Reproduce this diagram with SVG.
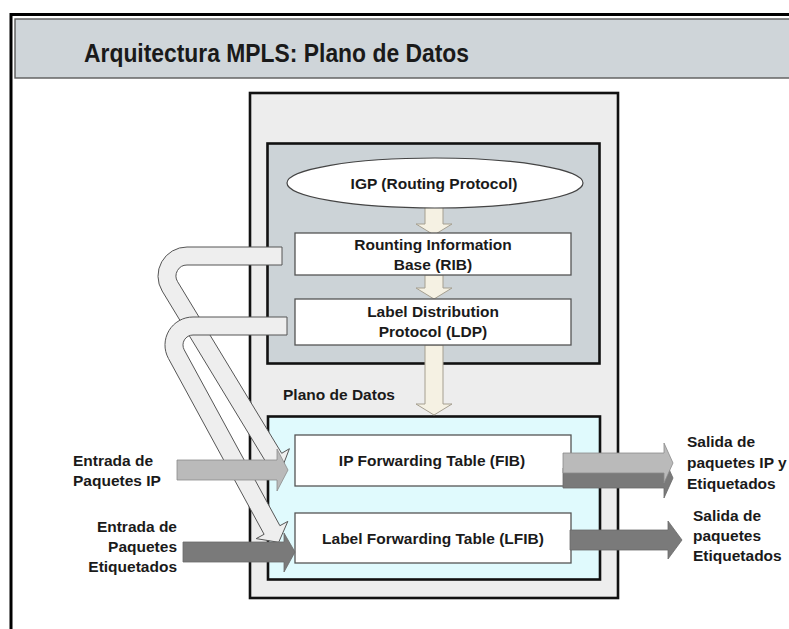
<svg xmlns="http://www.w3.org/2000/svg" width="789" height="629" viewBox="0 0 789 629">
<style>
text{font-family:"Liberation Sans",Arial,sans-serif;font-weight:bold;fill:#1a1a1a;font-size:15.5px}
.box{fill:#ffffff;stroke:#555;stroke-width:1.3}
.blk{stroke:#111;stroke-width:2.6}
.bent{fill:#eeeeee;stroke:#555;stroke-width:1}
.cream{fill:#f5f1e3;stroke:#a59f90;stroke-width:1}
.lg{fill:#bababa;stroke:#8c8c8c;stroke-width:0.8}
.dg{fill:#7a7a7a;stroke:#6a6a6a;stroke-width:0.8}
.c{text-anchor:middle}
</style>
<rect width="789" height="629" fill="#ffffff"/>
<g id="frame">
<path d="M11 629 V14.5 H789" fill="none" stroke="#000" stroke-width="3"/>
<rect x="15" y="19" width="780" height="59" fill="#cfd5d9" stroke="#5a5a5a" stroke-width="1.4"/>
<text x="84" y="62" style="font-size:26px" textLength="385" lengthAdjust="spacingAndGlyphs">Arquitectura MPLS: Plano de Datos</text>
</g>
<g id="router">
<rect x="250" y="93" width="368" height="505" fill="#ededed" class="blk"/>
</g>
<g id="control-plane">
<rect x="267.5" y="143.5" width="332" height="220" fill="#ccd3d7" class="blk"/>
</g>
<g id="data-plane">
<rect x="268" y="416.5" width="332" height="163" fill="#e0fafd" class="blk"/>
<text x="283" y="400">Plano de Datos</text>
</g>
<g id="connectors">
<path class="cream" d="M425 206 H443 V224 H452 L434 235 L416 224 H425 Z"/>
<path class="cream" d="M425 275 H443 V288 H452 L434 299 L416 288 H425 Z"/>
<path class="cream" d="M425 345 H443 V404 H452 L434 415 L416 404 H425 Z"/>
</g>
<g id="igp">
<ellipse cx="435" cy="183" rx="148" ry="25" fill="#fff" stroke="#444" stroke-width="1.2"/>
<text class="c" x="434" y="189" style="font-size:15.5px">IGP (Routing Protocol)</text>
</g>
<g id="rib">
<rect class="box" x="295" y="233" width="276" height="42"/>
<text class="c" x="433" y="250">Rounting Information</text>
<text class="c" x="433" y="270">Base (RIB)</text>
</g>
<g id="ldp">
<rect class="box" x="295" y="299" width="276" height="46"/>
<text class="c" x="433" y="317">Label Distribution</text>
<text class="c" x="433" y="337">Protocol (LDP)</text>
</g>
<g id="fib">
<rect class="box" x="295" y="435" width="276" height="51"/>
<text class="c" x="432" y="466">IP Forwarding Table (FIB)</text>
</g>
<g id="lfib">
<rect class="box" x="295" y="513" width="276" height="50"/>
<text class="c" x="433" y="544">Label Forwarding Table (LFIB)</text>
</g>
<g id="bent-connectors">
<path class="bent" d="M282 247 H187 A29 29 0 0 0 162.2 291.05 L266.3 462.7 L258.6 467.3 L281.3 470 L289.4 448.7 L281.7 453.3 L177.6 281.7 A11 11 0 0 1 187 265 H282 Z"/>
<path class="bent" d="M287 317 H193 A28 28 0 0 0 168.4 358.4 L264.1 534.3 L256.2 538.6 L278.7 542.3 L287.8 521.4 L279.9 525.7 L184.2 349.8 A10 10 0 0 1 193 335 H287 Z"/>
</g>
<g id="io-connectors">
<path class="lg" d="M177 460 H277 V449 L288 470 L277 491 V480 H177 Z"/>
<path class="dg" d="M183 542 H284 V533 L295 552 L284 572 V562 H183 Z"/>
<path class="dg" d="M563 468 H664 V458 L673 478 L664 498 V488 H563 Z"/>
<path class="lg" d="M563 453 H664 V443 L673 463 L664 483 V473 H563 Z"/>
<path class="dg" d="M570 530 H668 V521 L682 540 L668 559 V550 H570 Z"/>
</g>
<g id="in-ip">
<text x="73" y="466">Entrada de</text>
<text x="73" y="486">Paquetes IP</text>
</g>
<g id="in-labeled">
<text x="177" y="532" text-anchor="end">Entrada de</text>
<text x="177" y="552" text-anchor="end">Paquetes</text>
<text x="177" y="572" text-anchor="end">Etiquetados</text>
</g>
<g id="out-ip">
<text x="687" y="447">Salida de</text>
<text x="687" y="468">paquetes IP y</text>
<text x="687" y="489">Etiquetados</text>
</g>
<g id="out-labeled">
<text x="693" y="521">Salida de</text>
<text x="693" y="541">paquetes</text>
<text x="693" y="561">Etiquetados</text>
</g>
</svg>
